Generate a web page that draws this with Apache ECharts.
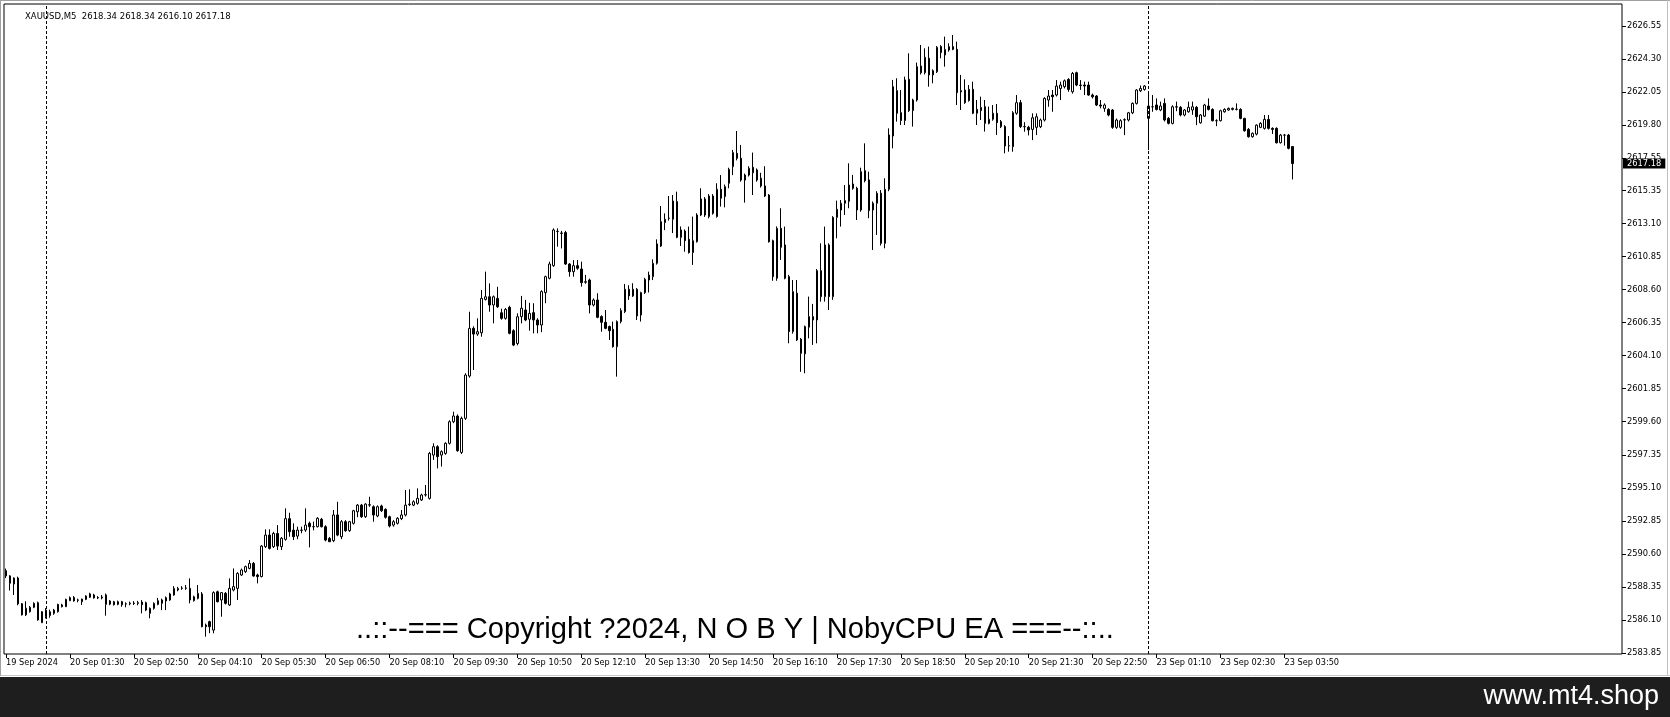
<!DOCTYPE html>
<html>
<head>
<meta charset="utf-8">
<script src="https://cdn.jsdelivr.net/npm/echarts@6/dist/echarts.min.js"></script>
<style>
html,body{margin:0;padding:0;background:#fff;}
#chart{width:1670px;height:717px;}
</style>
</head>
<body>
<div id="chart"></div>
<script>
// ---- data (MT4 order: open, high, low, close) ----
const symbol = 'XAUUSD';
const timeframe = 'M5';
const tickLabels = ['19 Sep 2024','20 Sep 01:30','20 Sep 02:50','20 Sep 04:10','20 Sep 05:30','20 Sep 06:50','20 Sep 08:10','20 Sep 09:30','20 Sep 10:50','20 Sep 12:10','20 Sep 13:30','20 Sep 14:50','20 Sep 16:10','20 Sep 17:30','20 Sep 18:50','20 Sep 20:10','20 Sep 21:30','20 Sep 22:50','23 Sep 01:10','23 Sep 02:30','23 Sep 03:50'];
const yTicks = [2583.85,2586.10,2588.35,2590.60,2592.85,2595.10,2597.35,2599.60,2601.85,2604.10,2606.35,2608.60,2610.85,2613.10,2615.35,2617.55,2619.80,2622.05,2624.30,2626.55];

const sep19 = [
[2589.45,2589.60,2588.95,2589.10],[2589.10,2589.15,2588.10,2588.60],[2588.55,2589.00,2587.80,2588.95],[2588.95,2589.05,2587.10,2587.20],
[2587.20,2587.25,2586.40,2586.45],[2586.45,2587.37,2586.37,2586.90],[2586.66,2587.05,2586.60,2586.96],[2586.96,2587.30,2586.90,2587.23],
[2587.27,2587.35,2586.05,2586.10],[2585.91,2586.70,2585.90,2586.66]
];

const sep20a = [
[2586.32,2586.90,2586.20,2586.77],[2586.40,2586.80,2586.25,2586.66],[2586.55,2586.85,2586.45,2586.77],[2586.66,2587.20,2586.60,2587.16],
[2587.00,2587.20,2586.95,2587.12],[2587.00,2587.55,2586.98,2587.50],[2587.41,2587.70,2587.38,2587.62],[2587.62,2587.73,2587.35,2587.39],
[2587.46,2587.55,2587.30,2587.44],[2587.34,2587.55,2587.12,2587.52],[2587.50,2587.78,2587.45,2587.73],[2587.64,2587.95,2587.60,2587.87],
[2587.80,2587.88,2587.55,2587.60],[2587.62,2587.72,2587.52,2587.60],[2587.60,2587.80,2587.50,2587.66],[2587.80,2587.90,2586.39,2587.16],
[2587.18,2587.45,2587.10,2587.39],[2587.34,2587.40,2587.08,2587.14],[2587.16,2587.42,2587.10,2587.34],[2587.34,2587.40,2587.00,2587.14],
[2587.18,2587.30,2586.96,2587.20],[2587.20,2587.35,2587.10,2587.25],[2587.25,2587.38,2587.12,2587.22],[2587.22,2587.40,2587.10,2587.28],
[2587.32,2587.45,2586.55,2587.14],[2587.27,2587.35,2586.70,2586.77],[2586.55,2586.95,2586.21,2586.89],[2586.89,2587.30,2586.80,2587.23],
[2587.16,2587.60,2587.10,2587.41],[2587.23,2587.55,2586.77,2587.46],[2587.39,2587.70,2586.77,2587.62],[2587.46,2587.95,2587.40,2587.87],
[2587.80,2588.40,2587.75,2588.25],[2588.14,2588.35,2588.05,2588.25],[2588.25,2588.40,2588.15,2588.27],[2588.25,2588.48,2588.15,2588.28],
[2588.25,2588.93,2587.23,2587.46],[2587.41,2587.75,2587.35,2587.68],[2587.57,2588.48,2587.50,2587.91],[2587.87,2588.00,2585.60,2585.64],
[2585.75,2585.85,2584.96,2585.64],[2585.98,2586.05,2585.20,2585.64],[2585.41,2588.05,2585.19,2587.96],[2588.02,2588.10,2587.30,2587.34],
[2587.46,2588.00,2586.32,2587.96],[2587.91,2588.00,2587.15,2587.23],[2587.12,2588.93,2587.05,2588.25],[2588.14,2589.61,2588.05,2588.37],
[2588.25,2589.35,2587.46,2589.27],[2589.16,2589.60,2589.10,2589.50],[2589.39,2589.80,2589.30,2589.73],[2589.61,2590.18,2589.55,2589.95],
[2589.95,2590.05,2589.05,2589.09],[2589.16,2589.25,2588.59,2589.05],[2589.05,2591.20,2589.00,2591.13]
];

const sep20b = [
[2591.09,2592.27,2591.00,2591.88],[2591.88,2592.27,2590.90,2590.97],[2591.09,2592.10,2591.00,2591.99],[2591.99,2592.56,2590.86,2591.13],
[2591.09,2591.75,2590.86,2591.66],[2591.59,2593.70,2591.50,2593.00],[2593.00,2593.40,2591.77,2592.11],[2592.22,2592.68,2591.54,2591.77],
[2591.81,2592.45,2591.60,2592.22],[2592.22,2592.45,2592.00,2592.20],[2592.22,2593.70,2592.10,2592.56],[2592.68,2592.80,2591.04,2592.45],
[2592.45,2592.80,2592.20,2592.45],[2592.45,2593.10,2592.40,2593.02],[2592.95,2593.05,2592.40,2592.45],[2592.45,2592.55,2591.45,2591.54],
[2591.65,2591.75,2591.40,2591.43],[2591.50,2593.59,2591.40,2593.25],[2593.25,2594.15,2591.80,2591.88],[2591.77,2592.90,2591.60,2592.79],
[2592.79,2592.90,2592.10,2592.18],[2592.18,2592.85,2592.10,2592.79],[2592.68,2593.60,2592.60,2593.54],[2593.47,2594.00,2593.10,2593.92],
[2593.92,2594.00,2593.05,2593.13],[2593.13,2594.05,2593.05,2593.99],[2593.92,2594.49,2593.80,2593.95],[2593.81,2593.90,2592.79,2593.25],
[2593.18,2593.90,2593.10,2593.81],[2593.86,2593.95,2593.45,2593.54],[2593.63,2593.70,2593.00,2593.09],[2593.13,2593.20,2592.40,2592.50],
[2592.56,2592.90,2592.45,2592.79],[2592.68,2593.10,2592.60,2593.02],[2593.00,2593.59,2592.90,2593.25],[2593.25,2594.95,2593.15,2593.92],
[2593.95,2595.00,2593.85,2593.99],[2593.92,2594.25,2593.85,2594.15],[2594.04,2595.06,2593.95,2594.38],[2594.27,2594.70,2594.20,2594.61],
[2594.61,2595.29,2594.50,2594.63],[2594.38,2597.55,2594.30,2597.44],[2597.33,2598.13,2597.00,2597.90],[2597.90,2598.00,2596.42,2597.22],
[2597.33,2597.65,2596.55,2597.56],[2597.44,2598.20,2597.35,2598.13],[2598.13,2599.70,2598.05,2599.60],[2599.60,2600.28,2599.50,2599.99],
[2599.99,2600.10,2597.55,2597.63],[2597.51,2599.95,2597.40,2599.83],[2599.83,2602.90,2599.72,2602.78],[2602.71,2607.09,2602.60,2605.96],
[2605.96,2606.10,2603.12,2605.57],[2605.57,2606.64,2605.45,2605.73],[2605.66,2608.57,2605.39,2608.00],[2607.93,2609.82,2607.85,2608.11],
[2608.11,2609.02,2607.09,2607.55],[2607.55,2608.20,2606.30,2608.11],[2608.00,2608.79,2607.35,2607.43],[2607.02,2607.30,2606.55,2606.64],
[2606.64,2607.35,2606.55,2607.25],[2607.39,2607.50,2605.55,2605.62],[2605.80,2605.90,2604.75,2604.82],[2604.93,2606.98,2604.80,2606.75]
];

const sep20c = [
[2606.76,2608.17,2606.30,2607.33],[2607.21,2607.90,2606.45,2606.53],[2606.58,2607.70,2605.80,2606.98],[2607.03,2607.67,2605.62,2606.53],
[2606.53,2606.65,2605.62,2606.19],[2606.19,2608.55,2605.70,2608.46],[2608.39,2609.55,2607.67,2609.48],[2609.37,2610.50,2609.30,2610.34],
[2610.23,2612.77,2610.15,2612.66],[2612.55,2612.77,2611.52,2612.57],[2612.45,2612.60,2611.40,2612.43],[2612.48,2612.60,2610.28,2610.34],
[2610.34,2610.40,2609.48,2609.82],[2609.82,2610.61,2609.48,2610.23],[2610.23,2610.61,2609.95,2610.05],[2610.00,2610.50,2608.80,2609.07],
[2609.10,2609.60,2609.00,2609.14],[2609.25,2609.35,2606.98,2607.55],[2607.55,2608.00,2607.45,2607.89],[2607.89,2608.35,2606.65,2606.71],
[2606.76,2606.85,2605.73,2606.37],[2606.37,2607.21,2605.90,2605.96],[2606.08,2606.15,2605.17,2605.80],[2605.89,2606.42,2604.65,2604.71],
[2604.71,2606.50,2602.67,2606.42],[2606.42,2607.33,2606.30,2607.17],[2607.10,2608.98,2607.00,2608.62],[2608.62,2608.90,2607.90,2608.17],
[2608.17,2609.03,2608.10,2608.62],[2608.62,2608.70,2606.53,2606.80],[2606.87,2608.45,2606.42,2608.39],[2608.39,2609.40,2608.30,2609.30],
[2609.25,2609.82,2608.40,2609.59],[2609.48,2610.66,2609.25,2610.39],[2610.39,2612.02,2610.30,2611.71],[2611.57,2614.29,2611.50,2613.23],
[2613.16,2613.79,2612.65,2613.39],[2613.45,2614.97,2613.30,2613.47],[2613.39,2615.04,2612.45,2614.63],[2614.59,2615.27,2612.10,2612.16],
[2612.16,2612.90,2611.57,2612.66],[2612.59,2612.70,2611.18,2611.93],[2612.02,2612.89,2611.05,2611.12],[2611.12,2613.57,2610.28,2611.93],
[2611.86,2613.80,2611.80,2613.68],[2613.68,2615.50,2613.60,2614.77],[2614.77,2614.90,2613.55,2613.68],[2613.57,2615.10,2613.45,2614.97],
[2614.97,2615.10,2613.70,2613.79],[2613.57,2615.84,2613.50,2615.43],[2615.43,2616.40,2614.25,2614.82],[2614.93,2615.75,2614.20,2615.61],
[2615.84,2616.90,2615.50,2616.79],[2616.97,2618.11,2616.40,2617.93],[2617.88,2619.40,2617.40,2617.54],[2617.54,2618.45,2615.95,2616.06],
[2616.06,2616.50,2614.52,2616.40],[2616.40,2617.00,2616.30,2616.86],[2616.93,2617.93,2615.04,2616.56],[2616.75,2616.85,2615.95,2616.06],
[2616.18,2616.55,2615.55,2615.66],[2615.66,2617.00,2614.90,2614.97],[2615.04,2615.10,2611.80,2611.86],[2611.93,2612.00,2609.20,2609.48]
];

const sep20d = [
[2609.37,2612.90,2609.20,2612.77],[2612.77,2614.14,2610.62,2611.48],[2611.64,2612.89,2609.30,2609.37],[2609.48,2609.60,2604.94,2605.74],
[2605.74,2609.25,2605.60,2608.46],[2608.35,2609.25,2605.10,2605.17],[2605.22,2605.30,2603.00,2604.26],[2604.22,2606.15,2602.90,2606.08],
[2606.04,2608.12,2605.28,2606.76],[2606.76,2607.62,2604.83,2606.53],[2606.53,2610.00,2604.94,2609.89],[2609.89,2611.75,2607.78,2608.12],
[2608.12,2612.89,2607.78,2611.64],[2611.64,2611.75,2607.21,2608.12],[2608.12,2613.60,2607.90,2613.52],[2613.52,2614.66,2612.09,2614.07],
[2614.02,2614.70,2612.89,2614.48],[2614.48,2615.72,2613.68,2614.66],[2614.61,2617.20,2614.14,2615.72],[2615.79,2616.41,2615.40,2615.50],
[2615.50,2615.60,2613.34,2614.02],[2614.02,2616.90,2613.90,2616.63],[2616.70,2618.56,2615.90,2616.02],[2616.07,2616.63,2613.46,2613.98],
[2614.02,2614.60,2611.30,2614.48],[2614.48,2615.30,2612.32,2615.16],[2615.16,2615.38,2611.60,2611.75],[2611.75,2616.18,2611.41,2615.43],
[2615.43,2619.58,2615.30,2619.13],[2619.06,2622.88,2618.22,2622.42],[2622.15,2622.99,2620.04,2620.61],[2620.65,2622.19,2619.81,2620.11],
[2620.11,2623.10,2619.81,2622.88],[2622.92,2624.69,2620.70,2620.79],[2620.79,2621.60,2619.70,2621.51],[2621.51,2624.06,2621.40,2623.78],
[2623.83,2625.26,2623.25,2623.37],[2623.37,2625.03,2623.25,2624.42],[2624.35,2625.15,2622.42,2623.22],[2623.22,2623.60,2622.65,2623.51],
[2623.44,2625.19,2623.35,2625.10],[2625.15,2625.25,2624.35,2624.74],[2624.58,2625.83,2623.78,2624.96],[2624.92,2625.37,2624.80,2625.15],
[2625.15,2625.94,2624.90,2624.96],[2624.96,2625.49,2621.17,2622.01],[2622.15,2623.22,2620.83,2622.06],[2622.19,2622.92,2621.25,2621.33],
[2621.47,2622.53,2621.40,2622.24],[2622.24,2622.76,2620.55,2620.61],[2620.61,2621.51,2619.81,2620.88],[2620.79,2621.74,2620.15,2621.01],
[2621.06,2621.51,2619.36,2619.92],[2619.92,2621.06,2619.85,2620.20],[2620.20,2621.17,2620.10,2620.61],[2620.61,2621.24,2619.13,2619.97],
[2620.04,2620.15,2619.60,2619.70],[2619.70,2619.80,2617.88,2618.38],[2618.38,2619.06,2617.99,2618.40],[2618.33,2620.75,2617.99,2620.65],
[2620.61,2621.85,2620.50,2621.33],[2621.33,2621.51,2619.60,2619.70],[2619.70,2620.00,2619.35,2619.69],[2619.65,2619.75,2619.10,2619.47]
];

const sep20e = [
[2619.51,2620.60,2618.78,2620.30],[2619.65,2620.60,2619.12,2620.37],[2619.69,2620.25,2619.60,2620.15],[2620.15,2621.70,2620.05,2621.62],
[2621.51,2622.19,2621.05,2621.78],[2621.85,2622.19,2620.71,2621.73],[2621.85,2622.87,2621.75,2622.46],[2622.30,2622.76,2621.51,2622.53],
[2622.42,2622.91,2622.30,2622.82],[2622.91,2623.00,2622.07,2622.23],[2622.07,2623.42,2621.95,2623.32],[2623.37,2623.44,2622.45,2622.53],
[2622.53,2622.87,2622.20,2622.50],[2622.53,2622.76,2621.85,2622.46],[2622.53,2622.76,2621.80,2621.85],[2621.85,2621.95,2621.62,2621.73],
[2621.78,2621.85,2621.10,2621.17],[2621.17,2621.51,2620.94,2621.10],[2620.94,2621.28,2620.71,2621.17],[2620.87,2620.95,2620.40,2620.49],
[2620.83,2620.90,2619.55,2619.65],[2619.65,2620.25,2619.55,2620.15],[2619.65,2620.20,2619.55,2620.10],[2620.15,2620.26,2619.12,2620.17],
[2620.15,2620.70,2620.05,2620.64],[2620.64,2621.35,2620.55,2621.28],[2621.28,2622.25,2621.20,2622.19],[2622.14,2622.50,2622.05,2622.30],
[2622.23,2622.53,2622.15,2622.46]
];

const sep23 = [
[2620.26,2622.07,2618.10,2621.10],[2621.05,2621.85,2620.71,2621.05],[2621.17,2621.62,2620.80,2620.87],[2620.83,2621.40,2620.75,2621.10],
[2621.28,2621.62,2620.05,2620.15],[2620.26,2620.35,2619.85,2619.92],[2619.92,2621.15,2619.85,2621.05],[2621.05,2621.40,2620.75,2621.03],
[2621.01,2621.10,2620.40,2620.49],[2620.49,2620.90,2620.40,2620.83],[2620.71,2621.40,2620.65,2621.01],[2620.83,2621.40,2620.50,2621.05],
[2621.01,2621.10,2619.80,2620.37],[2619.96,2620.55,2619.90,2620.49],[2620.41,2621.25,2620.35,2621.17],[2621.10,2621.62,2620.80,2620.87],
[2620.87,2620.95,2620.05,2620.10],[2620.10,2620.20,2619.73,2620.10],[2620.10,2620.85,2620.05,2620.78],[2620.71,2620.95,2620.65,2620.87],
[2620.83,2621.00,2620.78,2620.94],[2620.87,2621.00,2620.80,2620.94],[2620.87,2621.28,2620.80,2620.89],[2620.87,2620.95,2620.20,2620.26],
[2620.26,2620.30,2619.35,2619.42],[2619.51,2619.60,2618.95,2619.01],[2619.01,2619.30,2618.95,2619.24],[2619.19,2619.85,2619.10,2619.80],
[2619.65,2620.00,2619.60,2619.92],[2619.58,2620.49,2619.50,2620.19],[2620.19,2620.49,2619.50,2619.58],[2619.58,2619.65,2619.20,2619.51],
[2619.58,2619.65,2618.55,2618.60],[2618.60,2619.20,2618.55,2619.12],[2619.12,2619.20,2618.40,2619.12],[2619.12,2619.20,2618.15,2618.22],
[2618.34,2618.34,2616.10,2617.18]
];

// ---- build ----
const bars = [].concat(sep19, sep20a, sep20b, sep20c, sep20d, sep20e, sep23);
const sep20Start = sep19.length;
const sep23Start = sep19.length + sep20a.length + sep20b.length + sep20c.length + sep20d.length + sep20e.length;
const totalSlots = 405;
const categories = [];
for (let i = 0; i < totalSlots; i++) categories.push(String(i));
const candleData = bars.map(b => [b[0], b[3], b[2], b[1]]);
const last = bars[bars.length - 1];
const headerText = symbol + ',' + timeframe + '  ' + last.map(v => v.toFixed(2)).join(' ');

const FONT = 'DejaVu Sans';
const chart = echarts.init(document.getElementById('chart'));
chart.setOption({
  animation: false,
  backgroundColor: '#ffffff',
  title: {
    text: headerText, left: 20, top: 7,
    textStyle: {fontFamily: FONT, fontSize: 8.5, fontWeight: 'normal', color: '#000'}
  },
  grid: {left: 4, right: 48, top: 4, bottom: 63, show: true, borderColor: '#000', borderWidth: 1, backgroundColor: '#fff'},
  xAxis: {
    type: 'category', data: categories, boundaryGap: true,
    axisLine: {show: false},
    axisTick: {show: true, alignWithLabel: true, length: 4, lineStyle: {color: '#000'},
      interval: (idx) => idx % 16 === 0 && idx / 16 < tickLabels.length},
    axisLabel: {show: true, margin: 5, align: 'left', fontFamily: FONT, fontSize: 8.2, color: '#000',
      interval: (idx) => idx % 16 === 0 && idx / 16 < tickLabels.length,
      formatter: (v, idx) => tickLabels[idx / 16] || ''},
    splitLine: {show: false}
  },
  yAxis: {
    type: 'value', position: 'right', min: 2583.78, max: 2628.05, scale: true,
    axisLine: {show: false},
    axisTick: {show: true, length: 4, lineStyle: {color: '#000'}, customValues: yTicks},
    axisLabel: {show: true, margin: 5, fontFamily: FONT, fontSize: 8.3, color: '#000', customValues: yTicks,
      formatter: (v) => Number(v).toFixed(2)},
    splitLine: {show: false}
  },
  series: [{
    type: 'candlestick',
    data: candleData,
    barWidth: 2,
    itemStyle: {color: '#ffffff', color0: '#000000', borderColor: '#000000', borderColor0: '#000000', borderWidth: 1},
    markLine: {
      silent: true, symbol: 'none', animation: false,
      data: [
        {xAxis: categories[sep20Start], lineStyle: {color: '#000', width: 1, type: [3, 2]}, label: {show: false}},
        {xAxis: categories[sep23Start], lineStyle: {color: '#000', width: 1, type: [3, 2]}, label: {show: false}}
      ]
    }
  }, {
    type: 'line',
    data: [],
    silent: true,
    markLine: {
      silent: true, symbol: 'none', animation: false,
      lineStyle: {color: 'rgba(0,0,0,0)', width: 1, type: 'solid'},
      label: {show: true, position: 'end', distance: 1,
        formatter: last[3].toFixed(2), backgroundColor: '#000', color: '#fff', fontFamily: FONT, fontSize: 8.3,
        padding: [1, 4, 0, 4], lineHeight: 9},
      data: [{yAxis: last[3]}]
    }
  }],
  graphic: [
    {type: 'rect', shape: {x: 0, y: 677, width: 1670, height: 40}, style: {fill: '#1e1e1e'}, silent: true},
    {type: 'line', shape: {x1: 0, y1: 675.5, x2: 1670, y2: 675.5}, style: {stroke: '#c8c8c8', lineWidth: 1}},
    {type: 'line', shape: {x1: 0.5, y1: 0, x2: 0.5, y2: 676}, style: {stroke: '#a0a0a0', lineWidth: 1}},
    {type: 'line', shape: {x1: 0, y1: 0.5, x2: 1670, y2: 0.5}, style: {stroke: '#a0a0a0', lineWidth: 1}},
    {type: 'line', shape: {x1: 1667.5, y1: 0, x2: 1667.5, y2: 676}, style: {stroke: '#c0c0c0', lineWidth: 1}},
    {type: 'text', x: 356, y: 630, z: 100, style: {text: '..::--=== Copyright ?2024, N O B Y | NobyCPU EA ===--::..',
      fill: '#000', fontFamily: 'Liberation Sans', fontSize: 29.1, textAlign: 'left', textVerticalAlign: 'middle'}},
    {type: 'text', x: 1659, y: 697, z: 100, style: {text: 'www.mt4.shop', fill: '#ffffff',
      fontFamily: 'Liberation Sans', fontSize: 27, textAlign: 'right', textVerticalAlign: 'middle'}}
  ]
});
</script>
</body>
</html>
